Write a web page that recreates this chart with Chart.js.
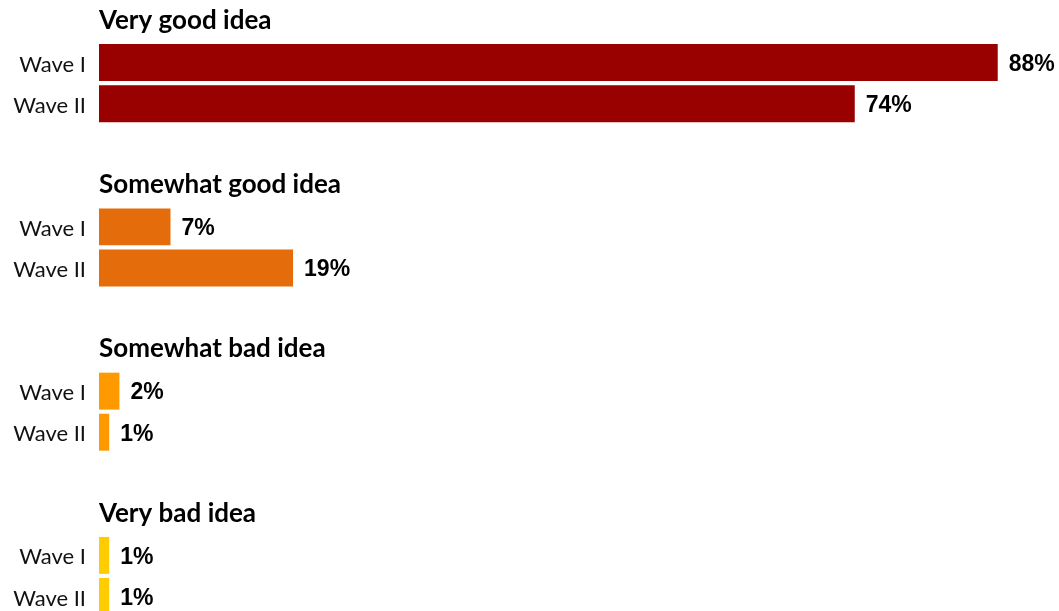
<!DOCTYPE html>
<html>
<head>
<meta charset="utf-8">
<script src="https://cdn.jsdelivr.net/npm/chart.js@4/dist/chart.umd.min.js"></script>
<style>
  html, body { margin: 0; padding: 0; background: #fff; overflow: hidden; }
</style>
</head>
<body>
<canvas id="myChart" width="1059" height="617"></canvas>
<script>
const answers = ['Very good idea', 'Somewhat good idea', 'Somewhat bad idea', 'Very bad idea'];
const waves = ['Wave I', 'Wave II'];
const waveOne = [88, 7, 2, 1];
const waveTwo = [74, 19, 1, 1];
const answerColors = ['#990000', '#E46C0A', '#FF9900', '#FFCC00'];

// every answer gets a heading row, one row per wave and a blank spacer row
const rowLabels = [];
const rowValues = [];
const rowColors = [];
const headingRows = [];
answers.forEach(function (answer, i) {
  headingRows.push(rowLabels.length);
  rowLabels.push(''); rowValues.push(null); rowColors.push('transparent');
  rowLabels.push(waves[0]); rowValues.push(waveOne[i]); rowColors.push(answerColors[i]);
  rowLabels.push(waves[1]); rowValues.push(waveTwo[i]); rowColors.push(answerColors[i]);
  if (i < answers.length - 1) {
    rowLabels.push(''); rowValues.push(null); rowColors.push('transparent');
  }
});

// headings above each pair of bars and the percentages at the bar ends
const barText = {
  id: 'barText',
  afterDatasetsDraw: function (chart) {
    const ctx = chart.ctx;
    const x = chart.scales.x;
    const y = chart.scales.y;
    ctx.save();
    ctx.fillStyle = '#000';
    ctx.textAlign = 'left';
    ctx.textBaseline = 'middle';
    ctx.font = 'bold 26px Lato';
    headingRows.forEach(function (row, i) {
      ctx.fillText(answers[i], chart.chartArea.left, y.getPixelForValue(row) - 1);
    });
    ctx.font = 'bold 23px "Liberation Sans"';
    rowValues.forEach(function (v, row) {
      if (v === null) return;
      ctx.fillText(v + '%', x.getPixelForValue(v) + 11, y.getPixelForValue(row) + 2);
    });
    ctx.restore();
  }
};

const ctx = document.getElementById('myChart').getContext('2d');
const chart = new Chart(ctx, {
  type: 'bar',
  data: {
    labels: rowLabels,
    datasets: [{
      data: rowValues,
      backgroundColor: rowColors,
      barPercentage: 0.9,
      categoryPercentage: 1
    }]
  },
  options: {
    indexAxis: 'y',
    responsive: false,
    animation: false,
    layout: { padding: { top: 1, left: 0, right: 0, bottom: 0 } },
    scales: {
      x: { display: false, min: 0, max: 94 },
      y: {
        grid: { display: false, drawTicks: false },
        border: { display: false },
        ticks: {
          autoSkip: false,
          padding: 13,
          labelOffset: 2,
          color: '#111',
          font: { family: 'Lato', size: 22 }
        },
        afterFit: function (scale) {
          scale.width = 99;
          scale.paddingTop = 0;
          scale.paddingBottom = 0;
        }
      }
    },
    plugins: {
      legend: { display: false },
      tooltip: { enabled: false }
    }
  },
  plugins: [barText]
});
</script>
</body>
</html>
